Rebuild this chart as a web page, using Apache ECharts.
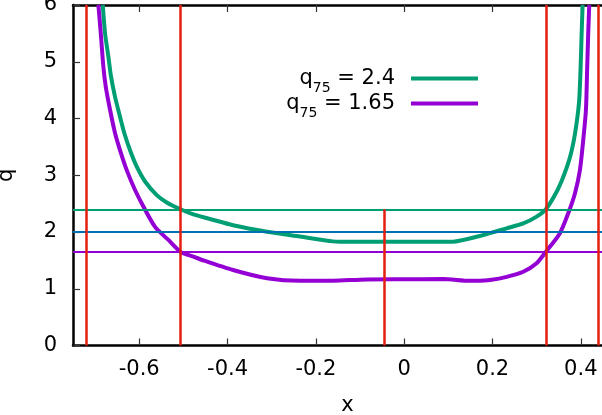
<!DOCTYPE html>
<html>
<head>
<meta charset="utf-8">
<script src="https://cdn.jsdelivr.net/npm/echarts@6/dist/echarts.min.js"></script>
<style>
  html, body { margin: 0; padding: 0; background: #fff; }
  #chart { width: 602px; height: 415px; }
</style>
</head>
<body>
<div id="chart"></div>
<script>
// q75 = 2.4 curve
const curveHigh = [
  [-0.6826, 6.0], [-0.6774, 5.50], [-0.6699, 5.09], [-0.6645, 4.77], [-0.6548, 4.38],
  [-0.6435, 4.03], [-0.6337, 3.74], [-0.6208, 3.44], [-0.6056, 3.15], [-0.5868, 2.89],
  [-0.5603, 2.65], [-0.5377, 2.52], [-0.5065, 2.40], [-0.4775, 2.31], [-0.4397, 2.23],
  [-0.3876, 2.12], [-0.3106, 2.005], [-0.2359, 1.92], [-0.1612, 1.835], [-0.1454, 1.83],
  [0.1105, 1.83], [0.1716, 1.93], [0.1943, 1.98], [0.2321, 2.065], [0.2696, 2.15],
  [0.3000, 2.27], [0.3208, 2.40], [0.3453, 2.71], [0.3602, 2.97], [0.3738, 3.27],
  [0.3829, 3.56], [0.3905, 3.92], [0.3964, 4.33], [0.3996, 4.91], [0.4019, 5.50], [0.4041, 6.0]
];
// q75 = 1.65 curve
const curveLow = [
  [-0.6925, 6.0], [-0.6871, 5.50], [-0.6812, 4.91], [-0.6758, 4.56], [-0.6660, 4.15],
  [-0.6547, 3.74], [-0.6434, 3.44], [-0.6283, 3.09], [-0.6095, 2.74], [-0.5906, 2.45],
  [-0.5641, 2.09], [-0.5340, 1.86], [-0.5065, 1.65], [-0.4775, 1.565], [-0.4623, 1.52],
  [-0.3876, 1.33], [-0.3106, 1.185], [-0.2359, 1.14], [-0.1612, 1.143], [-0.0842, 1.165],
  [-0.0095, 1.168], [0.0878, 1.17], [0.1490, 1.14], [0.1716, 1.14], [0.1943, 1.154],
  [0.2321, 1.21], [0.2696, 1.30], [0.3000, 1.45], [0.3208, 1.65], [0.3527, 1.98],
  [0.3715, 2.33], [0.3867, 2.68], [0.3980, 3.09], [0.4055, 3.62], [0.4116, 4.15],
  [0.4145, 4.91], [0.4168, 5.50], [0.4191, 6.0]
];
const redLinesX = [-0.7200, -0.5065, 0.3208, 0.4400];
const shortRedLine = [-0.0446, 2.4];
const levelHigh = 2.4;
const levelMid = 2.0;
const levelLow = 1.65;
const xTicks = [-0.6, -0.4, -0.2, 0, 0.2, 0.4];
const seriesNames = ['q75 = 2.4', 'q75 = 1.65'];
const legendLabels = ['{q|q}{s|75}{t| = 2.4}{g| }', '{q|q}{s|75}{t| = 1.65}{g| }'];

const font = 'DejaVu Sans';
const fs = 21;
const chart = echarts.init(document.getElementById('chart'));

const richText = {
  q: { fontSize: fs, lineHeight: 20, verticalAlign: 'middle', fontFamily: font, color: '#000' },
  t: { fontSize: fs, lineHeight: 20, verticalAlign: 'middle', fontFamily: font, color: '#000' },
  s: { fontSize: 14, lineHeight: 20, verticalAlign: 'bottom', fontFamily: font, color: '#000' },
  g: { width: 11, lineHeight: 34, fontSize: 10 }
};

const xAxisBase = {
  type: 'value',
  min: -0.75,
  max: 0.448,
  splitLine: { show: false },
  axisLine: { show: true, onZero: false, lineStyle: { color: '#000', width: 2.5 } },
  axisTick: { show: true, inside: true, length: 7, customValues: xTicks, lineStyle: { color: '#333', width: 1.2 } }
};

const redData = redLinesX.map(x => [{ coord: [x, 0] }, { coord: [x, 6] }]);
redData.push([{ coord: [shortRedLine[0], 0] }, { coord: [shortRedLine[0], shortRedLine[1]] }]);

const curveStyle = { type: 'line', showSymbol: false, smooth: 0.25, z: 3 };

const option = {
  animation: false,
  backgroundColor: '#fff',
  grid: { left: 73, right: 0, top: 5, bottom: 69.5, outerBoundsMode: 'none', containLabel: false },
  legend: [0, 1].map(i => ({
    data: [seriesNames[i]],
    right: 124,
    top: 68 + i * 25,
    align: 'right',
    icon: 'rect',
    itemWidth: 67,
    itemHeight: 4,
    padding: 0,
    selectedMode: false,
    formatter: () => legendLabels[i],
    textStyle: { rich: richText }
  })),
  xAxis: [
    Object.assign({}, xAxisBase, {
      position: 'bottom',
      name: 'x',
      nameLocation: 'middle',
      nameGap: 50,
      nameTextStyle: { fontFamily: font, fontSize: fs, color: '#000', padding: [0, 0, 0, 20] },
      axisLabel: {
        customValues: xTicks,
        margin: 14,
        fontFamily: font,
        fontSize: fs,
        color: '#000',
        formatter: v => String(Math.round(v * 10) / 10)
      }
    }),
    Object.assign({}, xAxisBase, { position: 'top', axisLabel: { show: false } })
  ],
  yAxis: {
    type: 'value',
    min: 0,
    max: 6,
    interval: 1,
    splitLine: { show: false },
    axisLine: { show: true, onZero: false, lineStyle: { color: '#000', width: 2.5 } },
    axisTick: { inside: true, length: 7, lineStyle: { color: '#333', width: 1.2 } },
    axisLabel: { margin: 16, fontFamily: font, fontSize: fs, color: '#000' },
    name: 'q',
    nameLocation: 'middle',
    nameGap: 56,
    nameTextStyle: { fontFamily: font, fontSize: fs, color: '#000' }
  },
  series: [
    {
      name: 'levels',
      type: 'line',
      data: [],
      z: 1,
      markLine: {
        silent: true,
        symbol: 'none',
        label: { show: false },
        data: [
          { yAxis: levelHigh, lineStyle: { color: '#009e73', width: 2, type: 'solid' } },
          { yAxis: levelMid, lineStyle: { color: '#0072b2', width: 2, type: 'solid' } },
          { yAxis: levelLow, lineStyle: { color: '#9400d3', width: 2, type: 'solid' } }
        ]
      }
    },
    {
      name: 'red',
      type: 'line',
      data: [],
      z: 2,
      markLine: {
        silent: true,
        symbol: 'none',
        label: { show: false },
        lineStyle: { color: '#e51e10', width: 2.5, type: 'solid' },
        data: redData
      }
    },
    Object.assign({}, curveStyle, {
      name: seriesNames[0],
      data: curveHigh,
      color: '#009e73',
      lineStyle: { color: '#009e73', width: 4 }
    }),
    Object.assign({}, curveStyle, {
      name: seriesNames[1],
      data: curveLow,
      color: '#9400d3',
      lineStyle: { color: '#9400d3', width: 4 }
    })
  ]
};

chart.setOption(option);
</script>
</body>
</html>
